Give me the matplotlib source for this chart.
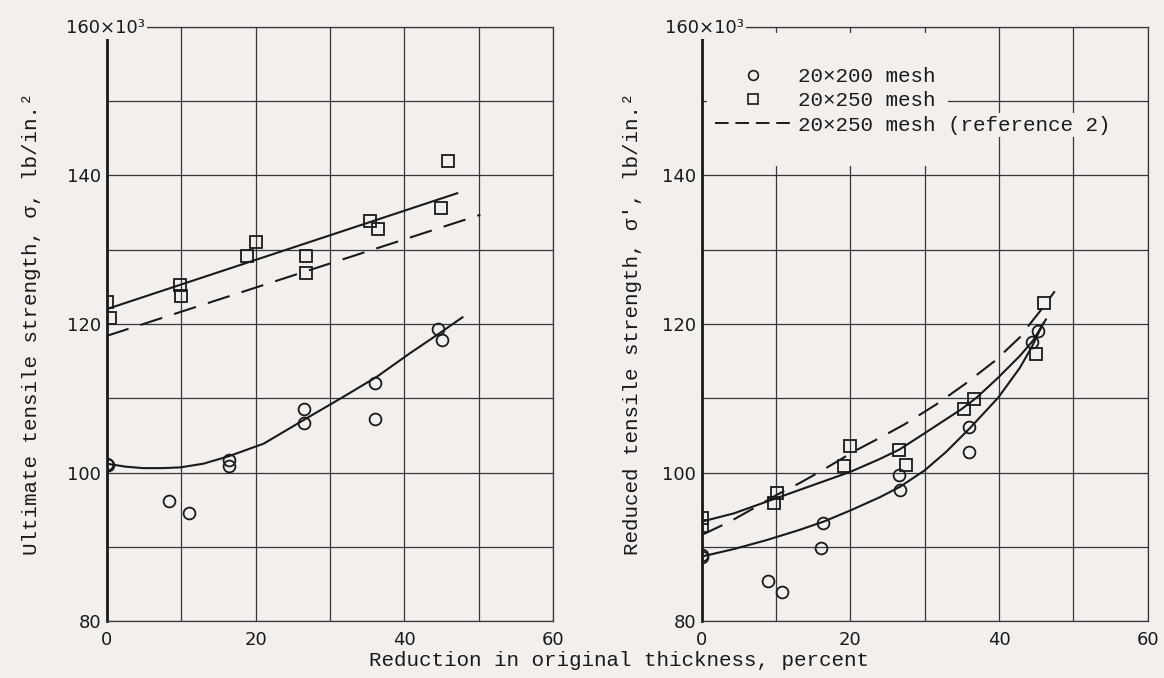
import matplotlib.pyplot as plt
from matplotlib.lines import Line2D
from matplotlib.patches import Rectangle

# --- data (stress in 10^3 lb/in.^2) ---
# left panel: ultimate tensile strength
sq_left_x = [0.1, 0.4, 9.9, 10.0, 18.9, 20.0, 26.8, 26.8, 35.4, 36.5, 44.9, 45.9]
sq_left_y = [123.0, 120.8, 125.3, 123.7, 129.1, 131.1, 129.2, 126.9, 133.8, 132.8, 135.6, 141.9]
ci_left_x = [0, 0.2, 8.4, 11.0, 16.4, 16.4, 26.5, 26.5, 36.1, 36.0, 44.5, 45.0]
ci_left_y = [101.2, 101.0, 96.2, 94.5, 101.7, 100.9, 108.6, 106.7, 112.0, 107.2, 119.3, 117.8]

sq_fit_left_x = [0, 47.1]
sq_fit_left_y = [122.0, 137.6]
ref_left_x = [0, 50.2]
ref_left_y = [118.4, 134.7]
ci_fit_left_x = [0, 2.5, 4.9, 7.5, 9.9, 13.0, 16.4, 21.1, 26.5, 31.8, 36.3, 40.8, 44.5, 47.8]
ci_fit_left_y = [101.2, 100.8, 100.6, 100.6, 100.7, 101.2, 102.2, 103.9, 107.1, 110.2, 112.9,
                 116.1, 118.6, 120.9]

# right panel: reduced tensile strength
ci_right_x = [0, 0.1, 8.9, 10.8, 16.3, 16.1, 26.5, 26.7, 35.9, 36.0, 44.4, 45.3]
ci_right_y = [88.9, 88.6, 85.4, 83.9, 93.2, 89.9, 99.7, 97.7, 102.8, 106.1, 117.6, 119.0]
sq_right_x = [0, 0, 10.1, 9.7, 19.1, 20.0, 26.5, 27.5, 35.3, 36.7, 45.0, 46.0]
sq_right_y = [93.9, 92.8, 97.3, 95.9, 100.9, 103.6, 103.0, 101.0, 108.6, 109.9, 116.0, 122.8]

sq_fit_right_x = [0, 4.3, 9.9, 14.1, 20.0, 23.9, 26.6, 30.0, 34.9, 37.0, 39.8, 42.8, 44.6, 46.3]
sq_fit_right_y = [93.4, 94.5, 96.5, 98.0, 100.1, 101.8, 103.1, 105.3, 108.5, 110.1, 112.7,
                  115.7, 117.8, 120.6]
ci_fit_right_x = [0, 4.3, 8.7, 13.2, 16.4, 20.0, 24.0, 26.7, 30.0, 32.9, 36.1, 39.9, 42.8, 44.4, 45.9]
ci_fit_right_y = [88.7, 89.7, 90.9, 92.3, 93.4, 94.9, 96.7, 98.1, 100.3, 102.8, 106.0, 110.1,
                  114.1, 116.9, 120.0]
ref_right_x = [0, 3.8, 7.0, 10.1, 13.2, 16.4, 20.4, 24.2, 27.3, 31.6, 35.4, 39.4, 42.8, 44.0, 45.5, 47.5]
ref_right_y = [91.6, 93.4, 95.2, 97.0, 98.6, 100.4, 102.8, 104.8, 106.5, 109.2, 111.9, 115.0,
               118.2, 119.8, 121.7, 124.4]

labels = ['20×200 mesh', '20×250 mesh', '20×250 mesh (reference 2)']
x_major = [0, 20, 40, 60]
x_minor = [10, 30, 50]
y_major = [80, 100, 120, 140, 160]
y_minor = [90, 110, 130, 150]

bg = '#f2efed'
ink = '#1a1a1a'
gridc = '#363636'
mono = 'Liberation Mono'

fig = plt.figure(figsize=(11.64, 6.78), dpi=100, facecolor=bg)
ax1 = fig.add_axes([0.0917, 0.0838, 0.3836, 0.8767])
ax2 = fig.add_axes([0.6028, 0.0838, 0.3832, 0.8767])


def setup(ax, label_x):
    ax.set_facecolor(bg)
    ax.set_xlim(0, 60)
    ax.set_ylim(80, 160)
    ax.set_xticks(x_major)
    ax.set_xticks(x_minor, minor=True)
    ax.set_yticks(y_major)
    ax.set_yticks(y_minor, minor=True)
    ax.set_xticklabels([str(v) for v in x_major])
    ax.set_yticklabels([str(v) for v in y_major[:-1]] + [''])
    ax.tick_params(which='both', length=0)
    ax.tick_params(axis='x', pad=7, labelsize=13, labelcolor=ink)
    ax.tick_params(axis='y', pad=4, labelsize=13, labelcolor=ink)
    ax.set_axisbelow(True)
    ax.grid(which='both', color=gridc, lw=0.9)
    for s in ['top', 'right', 'bottom']:
        ax.spines[s].set_color(gridc)
        ax.spines[s].set_linewidth(0.9)
    ax.spines['left'].set_color(ink)
    ax.spines['left'].set_linewidth(2.0)
    ax.annotate('160×10³', xy=(0, 160), xytext=(label_x, -4.5), textcoords='offset points',
                ha='left', va='baseline', fontsize=13, color=ink, zorder=6,
                bbox=dict(facecolor=bg, edgecolor='none', pad=1.5), annotation_clip=False)


setup(ax1, -29.5)
setup(ax2, -26.5)

line_kw = dict(color=ink, lw=1.5, zorder=2)
dash_kw = dict(color=ink, lw=1.5, dashes=(11, 6), zorder=2)
mk_kw = dict(ls='none', mfc='none', mec=ink, mew=1.3, zorder=3)

# left panel
ax1.plot(sq_fit_left_x, sq_fit_left_y, **line_kw)
ax1.plot(ref_left_x, ref_left_y, **dash_kw)
ax1.plot(ci_fit_left_x, ci_fit_left_y, **line_kw)
ax1.plot(sq_left_x, sq_left_y, marker='s', ms=8, **mk_kw)
ax1.plot(ci_left_x, ci_left_y, marker='o', ms=8.5, **mk_kw)

# right panel
ax2.plot(sq_fit_right_x, sq_fit_right_y, **line_kw)
ax2.plot(ci_fit_right_x, ci_fit_right_y, **line_kw)
ax2.plot(ref_right_x, ref_right_y, **dash_kw)
ax2.plot(sq_right_x, sq_right_y, marker='s', ms=8, **mk_kw)
ax2.plot(ci_right_x, ci_right_y, marker='o', ms=8.5, **mk_kw)

# legend area covers the grid
ax2.add_patch(Rectangle((0.012, 0.765), 0.54, 0.225, transform=ax2.transAxes,
                        facecolor=bg, edgecolor='none', zorder=1))
handles = [Line2D([], [], ls='none', marker='o', ms=7, mfc='none', mec=ink, mew=1.2),
           Line2D([], [], ls='none', marker='s', ms=6.5, mfc='none', mec=ink, mew=1.2),
           Line2D([], [], color=ink, lw=1.4, dashes=(7, 3.5))]
leg = ax2.legend(handles, labels, loc='upper left', bbox_to_anchor=(0.03, 0.932),
                 frameon=False, prop=dict(family=mono, size=15), handlelength=3.6,
                 handletextpad=0.4, labelspacing=0.25, borderpad=0, borderaxespad=0)
leg.set_zorder(5)
for t in leg.get_texts():
    t.set_color(ink)
    t.set_bbox(dict(facecolor=bg, edgecolor='none', pad=2))

fig.text(32 / 1164, 0.523, 'Ultimate tensile strength, σ, lb/in.²', rotation=90,
         ha='center', va='center', family=mono, fontsize=15, color=ink)
fig.text(632 / 1164, 0.523, "Reduced tensile strength, σ', lb/in.²", rotation=90,
         ha='center', va='center', family=mono, fontsize=15, color=ink)
fig.text(619 / 1164, 0.0265, 'Reduction in original thickness, percent',
         ha='center', va='center', family=mono, fontsize=15, color=ink)

fig.savefig('out.png', dpi=100, facecolor=bg)
